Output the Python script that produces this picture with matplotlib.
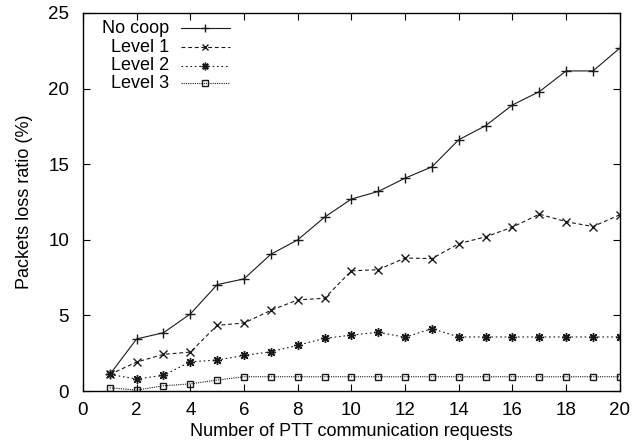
import matplotlib
matplotlib.use("Agg")
import matplotlib.pyplot as plt

plt.rcParams['font.family'] = ['Liberation Sans', 'DejaVu Sans']

x = list(range(1, 21))
no_coop = [1.1, 3.45, 3.86, 5.1, 7.04, 7.42, 9.05, 10.0, 11.5, 12.7,
           13.2, 14.08, 14.83, 16.62, 17.55, 18.92, 19.8, 21.17, 21.17, 22.68]
level1 = [1.1, 1.92, 2.43, 2.58, 4.35, 4.5, 5.34, 6.03, 6.14, 7.95,
          8.03, 8.8, 8.76, 9.75, 10.2, 10.84, 11.7, 11.2, 10.88, 11.66]
level2 = [1.1, 0.8, 1.04, 1.94, 2.05, 2.36, 2.6, 3.03, 3.49, 3.7,
          3.89, 3.56, 4.13, 3.58, 3.58, 3.58, 3.58, 3.58, 3.58, 3.58]
level3 = [0.22, 0.07, 0.35, 0.48, 0.73, 0.95, 0.95, 0.95, 0.95, 0.95,
          0.95, 0.95, 0.95, 0.95, 0.95, 0.95, 0.95, 0.95, 0.95, 0.95]
labels = ["No coop", "Level 1", "Level 2", "Level 3"]
xticks = list(range(0, 21, 2))
yticks = list(range(0, 26, 5))

fig = plt.figure(figsize=(6.43, 4.48), dpi=100)
ax = fig.add_axes([0.129, 0.127, 0.835, 0.844])

col = '#1a1a1a'
styles = [
    dict(ls='-', marker='+', ms=7, mew=1.0),
    dict(ls=(0, (3.5, 2.5)), marker='x', ms=5.5, mew=1.0),
    dict(ls=(0, (1.5, 2.5)), marker=(8, 2, 0), ms=6.5, mew=1.0),
    dict(ls=(0, (1, 1)), marker='s', ms=5, mew=1.0, mfc='none'),
]
series = [no_coop, level1, level2, level3]
for ys, st in zip(series, styles):
    ax.plot(x, ys, color=col, lw=0.8, mec=col, **st)

ax.set_xlim(0, 20)
ax.set_ylim(0, 25)
ax.set_xticks(xticks)
ax.set_yticks(yticks)
ax.tick_params(direction='in', top=True, right=True, length=5, width=0.8,
               labelsize=13.5, colors='black')
ax.tick_params(axis='x', pad=8)
ax.tick_params(axis='y', pad=10)
for s in ax.spines.values():
    s.set_linewidth(1.0)
ax.set_xlabel("Number of PTT communication requests", fontsize=13, labelpad=3)
ax.set_ylabel("Packets loss ratio (%)", fontsize=13, labelpad=11)

# manual gnuplot-style legend (text right-aligned, sample to the right)
row_y = [0.960, 0.909, 0.861, 0.814]
for lab, st, yy in zip(labels, styles, row_y):
    ax.text(0.160, yy, lab, transform=ax.transAxes, ha='right', va='center',
            fontsize=13)
    ax.plot([0.183, 0.274], [yy, yy], transform=ax.transAxes, color=col,
            lw=0.8, ls=st['ls'], clip_on=False)
    ax.plot([0.228], [yy], transform=ax.transAxes, color=col,
            marker=st['marker'], ms=st['ms'] * 0.85, mew=st['mew'],
            mfc=st.get('mfc', col), mec=col, ls='none', clip_on=False)

fig.savefig("out.png", dpi=100)
